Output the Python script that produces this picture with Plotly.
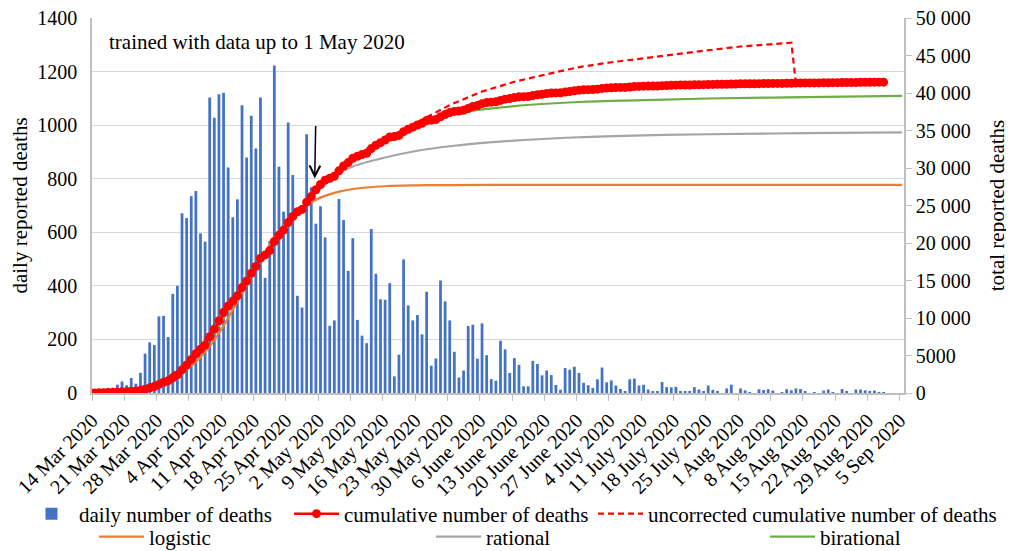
import pandas as pd
import plotly.graph_objects as go

# ---------------- data ----------------
start_date = "2020-03-14"
daily_deaths = [11, 15, 14, 19, 20, 31, 43, 29, 56, 35,
                75, 147, 189, 179, 286, 288, 209, 370, 400, 671,
                653, 735, 754, 596, 565, 1103, 1028, 1115, 1121, 842,
                656, 723, 1074, 879, 1035, 913, 1103, 430, 568, 1223,
                845, 677, 1010, 814, 363, 319, 966, 768, 632, 697,
                581, 251, 271, 724, 646, 456, 578, 273, 214, 186,
                612, 445, 350, 348, 410, 62, 143, 499, 327, 271,
                291, 219, 378, 102, 129, 420, 342, 271, 154, 58,
                84, 250, 255, 128, 260, 141, 52, 46, 195, 163,
                75, 130, 105, 25, 25, 120, 108, 66, 84, 67,
                30, 12, 93, 87, 98, 75, 38, 29, 19, 51,
                95, 40, 47, 28, 15, 7, 51, 54, 28, 31,
                13, 7, 7, 41, 22, 21, 23, 7, 7, 7,
                22, 13, 7, 28, 12, 5, 0, 17, 31, 0,
                17, 10, 3, 0, 14, 11, 14, 9, 0, 3,
                14, 10, 17, 15, 7, 0, 3, 0, 9, 13,
                3, 0, 15, 4, 0, 13, 13, 10, 7, 9, 2, 3]

cumulative_deaths = [11, 26, 40, 59, 79, 110, 153, 182, 238, 273,
                     348, 495, 684, 863, 1149, 1437, 1646, 2016, 2416, 3087,
                     3740, 4475, 5229, 5825, 6390, 7493, 8521, 9636, 10757, 11599,
                     12255, 12978, 14052, 14931, 15966, 16879, 17982, 18412, 18980, 20203,
                     21048, 21725, 22735, 23549, 24162, 24481, 25447, 26215, 27097, 27794,
                     28375, 28626, 28897, 29621, 30267, 30723, 31301, 31574, 31788, 31974,
                     32586, 33031, 33381, 33729, 34139, 34201, 34344, 34843, 35170, 35441,
                     35732, 35951, 36329, 36381, 36460, 36830, 37122, 37393, 37547, 37605,
                     37689, 37939, 38194, 38322, 38582, 38723, 38775, 38821, 39016, 39179,
                     39254, 39384, 39489, 39514, 39539, 39659, 39767, 39833, 39917, 39984,
                     40014, 40026, 40119, 40206, 40304, 40379, 40417, 40446, 40465, 40516,
                     40611, 40651, 40698, 40726, 40741, 40748, 40799, 40853, 40881, 40912,
                     40925, 40932, 40939, 40980, 41002, 41023, 41046, 41053, 41060, 41067,
                     41089, 41102, 41109, 41137, 41149, 41154, 41154, 41171, 41202, 41202,
                     41219, 41229, 41232, 41232, 41246, 41257, 41271, 41280, 41280, 41283,
                     41297, 41307, 41324, 41339, 41346, 41346, 41349, 41349, 41358, 41371,
                     41374, 41374, 41389, 41393, 41393, 41406, 41419, 41429, 41436, 41445,
                     41447, 41450]

uncorrected_dates = ["2020-03-14", "2020-03-21", "2020-03-28", "2020-04-04", "2020-04-11",
                     "2020-04-18", "2020-04-25", "2020-05-02", "2020-05-09", "2020-05-16",
                     "2020-05-23", "2020-05-30", "2020-06-06", "2020-06-13", "2020-06-20",
                     "2020-06-27", "2020-07-04", "2020-07-11", "2020-07-18", "2020-07-25",
                     "2020-08-01", "2020-08-08", "2020-08-12", "2020-08-13", "2020-09-01"]
uncorrected_cum = [11, 182, 1149, 4475, 10757, 16879, 22735, 27794, 31300, 33900,
                   36100, 38400, 40200, 41500, 42500, 43450, 44100, 44650, 45250, 45700,
                   46200, 46550, 46700, 41324, 41450]

fit_dates = ["2020-03-14", "2020-03-21", "2020-03-28", "2020-04-04", "2020-04-08",
             "2020-04-11", "2020-04-15", "2020-04-18", "2020-04-22", "2020-04-25",
             "2020-04-29", "2020-05-02", "2020-05-06", "2020-05-09", "2020-05-16",
             "2020-05-23", "2020-05-30", "2020-06-13", "2020-06-27", "2020-07-11",
             "2020-07-25", "2020-08-15", "2020-09-05"]
logistic = [130, 410, 1250, 3610, 6240, 8950, 13300, 16700, 20650, 22950,
            25050, 26050, 26850, 27200, 27570, 27690, 27730, 27750, 27750, 27750,
            27750, 27750, 27750]
rational = [100, 250, 1150, 4300, 7300, 9900, 13800, 16700, 20200, 22700,
            25300, 27300, 29300, 30200, 31400, 32300, 32900, 33650, 34100, 34350,
            34500, 34640, 34760]
birational = [100, 200, 1100, 4400, 7300, 10000, 13900, 16700, 20200, 22700,
              25500, 27700, 29800, 31300, 33900, 35800, 37150, 38250, 38800, 39050,
              39270, 39450, 39620]

left_ticks = [0, 200, 400, 600, 800, 1000, 1200, 1400]
right_ticks = [0, 5000, 10000, 15000, 20000, 25000, 30000, 35000, 40000, 45000, 50000]
right_labels = ["0", "5000", "10 000", "15 000", "20 000", "25 000", "30 000",
                "35 000", "40 000", "45 000", "50 000"]
x_tickvals = ["2020-03-14", "2020-03-21", "2020-03-28", "2020-04-04", "2020-04-11",
              "2020-04-18", "2020-04-25", "2020-05-02", "2020-05-09", "2020-05-16",
              "2020-05-23", "2020-05-30", "2020-06-06", "2020-06-13", "2020-06-20",
              "2020-06-27", "2020-07-04", "2020-07-11", "2020-07-18", "2020-07-25",
              "2020-08-01", "2020-08-08", "2020-08-15", "2020-08-22", "2020-08-29",
              "2020-09-05"]
x_ticktext = ["14 Mar 2020", "21 Mar 2020", "28 Mar 2020", "4 Apr 2020", "11 Apr 2020",
              "18 Apr 2020", "25 Apr 2020", "2 May 2020", "9 May 2020", "16 May 2020",
              "23 May 2020", "30 May 2020", "6 June 2020", "13 June 2020", "20 June 2020",
              "27 June 2020", "4 July 2020", "11 July 2020", "18 July 2020", "25 July 2020",
              "1 Aug 2020", "8 Aug 2020", "15 Aug 2020", "22 Aug 2020", "29 Aug 2020",
              "5 Sep 2020"]

# ---------------- figure ----------------
dates = pd.date_range(start_date, periods=len(daily_deaths), freq="D")
DAY = 86400000
FONT = "Liberation Serif, Times New Roman, Tinos, DejaVu Serif, serif"

fig = go.Figure()
fig.add_trace(go.Bar(x=dates, y=daily_deaths, name="daily number of deaths",
                     marker=dict(color="#4472C4", line=dict(width=0)),
                     xperiod=DAY, xperiodalignment="middle", legend="legend"))
fig.add_trace(go.Scatter(x=fit_dates, y=logistic, name="logistic", mode="lines",
                         line=dict(color="#ED7D31", width=2.2, shape="spline"),
                         xperiod=DAY, xperiodalignment="middle",
                         yaxis="y2", legend="legend4"))
fig.add_trace(go.Scatter(x=fit_dates, y=rational, name="rational", mode="lines",
                         line=dict(color="#A5A5A5", width=2.2, shape="spline"),
                         xperiod=DAY, xperiodalignment="middle",
                         yaxis="y2", legend="legend5"))
fig.add_trace(go.Scatter(x=fit_dates, y=birational, name="birational", mode="lines",
                         line=dict(color="#70AD47", width=2.2, shape="spline"),
                         xperiod=DAY, xperiodalignment="middle",
                         yaxis="y2", legend="legend6"))
fig.add_trace(go.Scatter(x=uncorrected_dates, y=uncorrected_cum,
                         name="uncorrected cumulative number of deaths", mode="lines",
                         line=dict(color="#FF0000", width=2.2, dash="6px,4px"),
                         xperiod=DAY, xperiodalignment="middle",
                         yaxis="y2", legend="legend3"))
fig.add_trace(go.Scatter(x=dates, y=cumulative_deaths, name="cumulative number of deaths",
                         mode="lines+markers",
                         line=dict(color="#FF0000", width=2.5),
                         marker=dict(color="#FF0000", size=9),
                         xperiod=DAY, xperiodalignment="middle",
                         yaxis="y2", legend="legend2"))

fig.add_annotation(text="trained with data up to 1 May 2020", xref="paper", yref="paper",
                   x=0.019, y=0.936, xanchor="left", yanchor="middle",
                   showarrow=False, font=dict(family=FONT, size=21, color="black"))
fig.add_annotation(text="", xref="x", yref="y2", x="2020-05-01 06:00", y=28600,
                   ax=1, ay=-54, showarrow=True, arrowhead=5, arrowsize=1.4,
                   arrowwidth=1.5, arrowcolor="black")

axis_gray = "#bfbfbf"


def legend_box(x, y):
    return dict(orientation="h", xref="container", yref="container",
                x=x, xanchor="left", y=y, yanchor="middle",
                font=dict(family=FONT, size=21), itemwidth=45,
                bgcolor="rgba(0,0,0,0)", borderwidth=0)


fig.update_layout(
    width=1006, height=543,
    margin=dict(l=83.5, r=110, t=9.5, b=157.7, autoexpand=False),
    plot_bgcolor="white", paper_bgcolor="white",
    font=dict(family=FONT, size=20, color="black"),
    bargap=0.4,
    showlegend=True,
    xaxis=dict(type="date", range=["2020-03-14", "2020-09-05 22:00"],
               tickmode="array", tickvals=x_tickvals, ticktext=x_ticktext,
               tickangle=-45, ticks="outside", ticklen=6, tickcolor=axis_gray,
               showline=True, linecolor=axis_gray, linewidth=1.5,
               showgrid=False, zeroline=False, automargin=False,
               tickfont=dict(family=FONT, size=20)),
    yaxis=dict(range=[0, 1400], tickmode="array", tickvals=left_ticks,
               showgrid=True, gridcolor="#d9d9d9", gridwidth=1.2,
               showline=True, linecolor=axis_gray, linewidth=1.5,
               zeroline=False, ticks="", ticklabelstandoff=9,
               ticklabeloverflow="allow",
               title=dict(text="daily reported deaths", standoff=6,
                          font=dict(family=FONT, size=21)),
               tickfont=dict(family=FONT, size=20)),
    yaxis2=dict(range=[0, 50000], overlaying="y", side="right",
                tickmode="array", tickvals=right_ticks, ticktext=right_labels,
                showgrid=False, showline=True, linecolor=axis_gray, linewidth=1.5,
                zeroline=False, ticks="outside", ticklen=6, tickcolor=axis_gray,
                ticklabeloverflow="allow",
                title=dict(text="total reported deaths", standoff=20,
                           font=dict(family=FONT, size=21)),
                tickfont=dict(family=FONT, size=20)),
    legend=legend_box(0.0159, 0.0681),
    legend2=legend_box(0.2793, 0.0681),
    legend3=legend_box(0.5815, 0.0681),
    legend4=legend_box(0.0855, 0.026),
    legend5=legend_box(0.4205, 0.026),
    legend6=legend_box(0.7525, 0.026),
)

fig.write_html("out.html")
